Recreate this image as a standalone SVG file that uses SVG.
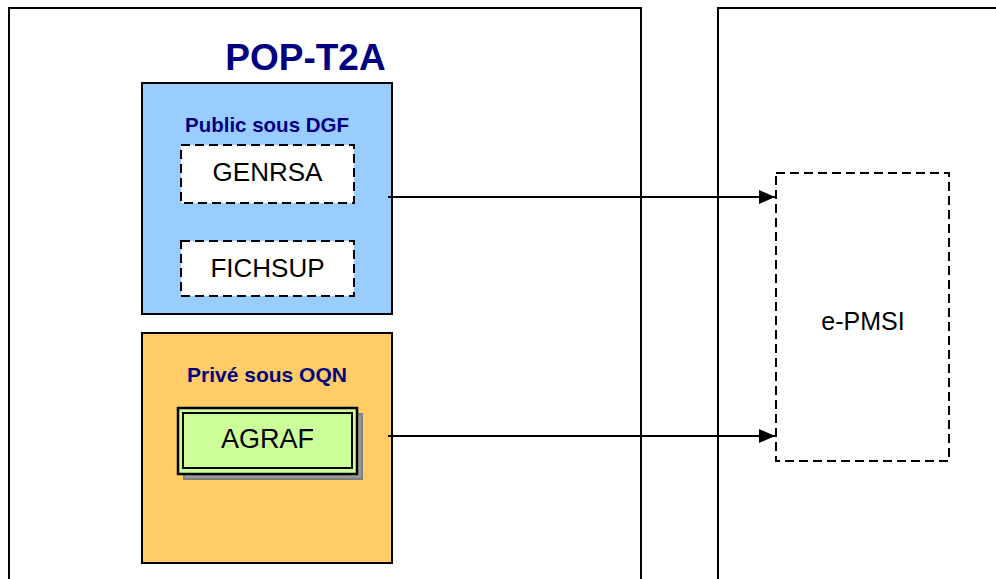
<svg xmlns="http://www.w3.org/2000/svg" width="996" height="579" viewBox="0 0 996 579">
<style>
.frame{fill:none;stroke:#000;stroke-width:2}
.dash{fill:#fff;stroke:#000;stroke-width:2;stroke-dasharray:9,5}
.lbl{font-family:"Liberation Sans",Arial,sans-serif;fill:#000;text-anchor:middle}
.hdr{font-family:"Liberation Sans",Arial,sans-serif;font-weight:bold;fill:#000080;text-anchor:middle}
.conn{stroke:#000;stroke-width:2;fill:none;marker-end:url(#arr)}
</style>
<defs>
<marker id="arr" markerWidth="16" markerHeight="14" refX="16" refY="7" orient="auto" markerUnits="userSpaceOnUse">
<path d="M0,0 L16,7 L0,14 Z" fill="#000"/>
</marker>
</defs>
<rect width="996" height="579" fill="#fff"/>
<g id="frames">
<path class="frame" d="M9,579 V8 H641 V579"/>
<path class="frame" d="M718,579 V8 H1000"/>
</g>
<g id="title"><text class="hdr" x="305.5" y="70" font-size="37">POP-T2A</text></g>
<g id="public">
<rect x="142" y="83" width="250" height="231" fill="#99CCFF" stroke="#000" stroke-width="2"/>
<text class="hdr" x="267" y="132" font-size="20.5">Public sous DGF</text>
</g>
<g id="genrsa">
<rect class="dash" x="181" y="145" width="173" height="58"/>
<text class="lbl" x="267.5" y="181" font-size="26">GENRSA</text>
</g>
<g id="fichsup">
<rect class="dash" x="181" y="241" width="173" height="55"/>
<text class="lbl" x="267.5" y="277" font-size="26">FICHSUP</text>
</g>
<g id="prive">
<rect x="142" y="333" width="250" height="230" fill="#FFCC66" stroke="#000" stroke-width="2"/>
<text class="hdr" x="267" y="382" font-size="21">Privé sous OQN</text>
</g>
<g id="agraf">
<rect x="184" y="414" width="178" height="65" fill="#999" stroke="#808080" stroke-width="2"/>
<rect x="178" y="408" width="179" height="66" fill="#CCFF99" stroke="#000" stroke-width="2.5"/>
<rect x="183" y="413" width="169" height="55" fill="#CCFF99" stroke="#000" stroke-width="2"/>
<text class="lbl" x="267.5" y="448" font-size="27">AGRAF</text>
</g>
<g id="epmsi">
<rect class="dash" x="776" y="173" width="173" height="288"/>
<text class="lbl" x="863" y="330" font-size="25">e-PMSI</text>
</g>
<g id="connectors">
<line class="conn" x1="388" y1="197" x2="775" y2="197"/>
<line class="conn" x1="388" y1="436" x2="775" y2="436"/>
</g>
</svg>
